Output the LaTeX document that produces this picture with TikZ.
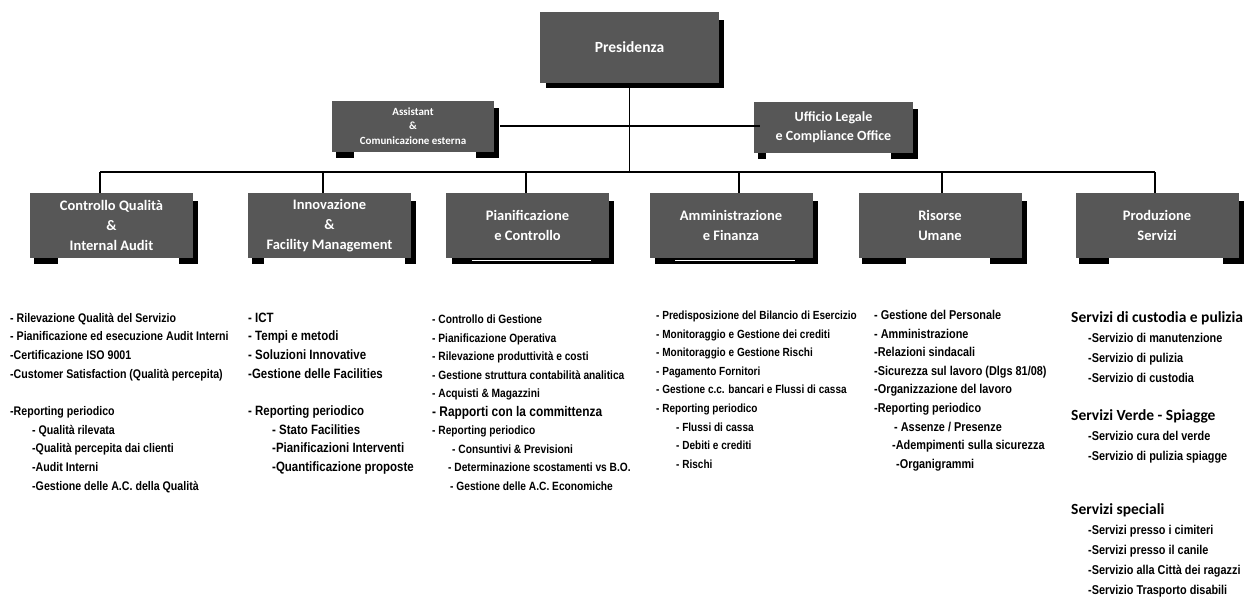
\documentclass[tikz,border=0pt]{standalone}
\usepackage{fontspec}
\newfontfamily\boxfont{Carlito}
\newfontfamily\listfont[FakeStretch=0.85]{Liberation Sans}
\usetikzlibrary{positioning}

\definecolor{boxgray}{gray}{0.34}

\tikzset{
  unit/.style={fill=boxgray, text=white, align=center, inner sep=0pt,
    minimum width=163pt, minimum height=65pt,
    font=\boxfont\bfseries\fontsize{14.5}{20}\selectfont},
  staff/.style={unit, minimum width=162pt, minimum height=51pt},
  item/.style={anchor=base west, inner sep=0pt,
    font=\listfont\bfseries\fontsize{#1}{14}\selectfont},
  item/.default=12,
  head/.style={anchor=base west, inner sep=0pt,
    font=\boxfont\bfseries\fontsize{15.5}{18}\selectfont},
  link/.style={line width=1.5pt},
}

% ombra: striscia a destra e due piedini in basso
\newcommand{\feet}[3]{%
  \fill ([yshift=-8pt]#1.north east) rectangle ([xshift=5pt,yshift=-6pt]#1.south east);
  \fill ([xshift=4pt]#1.south west) rectangle ([xshift=#2pt,yshift=-6pt]#1.south west);
  \fill ([xshift=-#3pt]#1.south east) rectangle ([xshift=5pt,yshift=-6pt]#1.south east);
}
% ombra piena con filo bianco
\newcommand{\fullshadow}[1]{%
  \fill ([yshift=-8pt]#1.north east) rectangle ([xshift=5pt,yshift=-6pt]#1.south east);
  \fill ([xshift=6pt]#1.south west) rectangle ([xshift=5pt,yshift=-6pt]#1.south east);
  \draw[white, line width=1pt] ([xshift=26pt,yshift=-2.5pt]#1.south west) -- ([xshift=-18pt,yshift=-2.5pt]#1.south east);
}

\begin{document}
\begin{tikzpicture}[x=1pt,y=-1pt]
  \useasboundingbox (0,0) rectangle (1255,602);

  % vertice
  \node[unit, minimum width=179pt, minimum height=71pt,
    font=\boxfont\bfseries\fontsize{15.5}{18}\selectfont] (pres) at (629.5,47.5) {Presidenza};
  \node[staff, font=\boxfont\bfseries\fontsize{11}{14.5}\selectfont] (asst) at (413,126)
    {Assistant\\\&\\Comunicazione esterna};
  \node[staff, minimum width=159pt, font=\boxfont\bfseries\fontsize{14}{19}\selectfont] (legal) at (833.5,127)
    {Ufficio Legale\\e Compliance Office};

  % direzioni
  \node[unit] (dep1) at (111.5,225.5) {Controllo Qualità\\\&\\Internal Audit};
  \node[unit] (dep2) at (329.5,225.5) {Innovazione\\\&\\Facility Management};
  \node[unit] (dep3) at (527.5,225.5) {Pianificazione\\e Controllo};
  \node[unit] (dep4) at (731,225.5) {Amministrazione\\e Finanza};
  \node[unit] (dep5) at (940,225.5) {Risorse\\Umane};
  \node[unit] (dep6) at (1157,225.5) {Produzione\\Servizi};

  \fill ([yshift=-8pt]pres.north east) rectangle ([xshift=5pt,yshift=-5pt]pres.south east);
  \fill ([xshift=6pt]pres.south west) rectangle ([xshift=5pt,yshift=-5pt]pres.south east);
  \feet{asst}{22}{18}
  \feet{legal}{12}{22}
  \feet{dep1}{28}{14}
  \feet{dep2}{16}{6}
  \fullshadow{dep3}
  \fullshadow{dep4}
  \feet{dep5}{48}{32}
  \feet{dep6}{34}{16}

  % collegamenti
  \coordinate (bus1) at (100,172);
  \coordinate (bus2) at (323,172);
  \coordinate (bus3) at (526,172);
  \coordinate (bus4) at (739,172);
  \coordinate (bus5) at (942,172);
  \coordinate (bus6) at (1155,172);
  \draw[link] ([xshift=6pt]asst.east) -- ([xshift=6pt]asst.east -| legal.west);
  \draw[link] (pres.south) -- (pres.south |- bus1);
  \draw[link] (bus1) -- (bus6);
  \foreach \i in {1,...,6}
    \draw[link] (bus\i) -- (bus\i |- dep\i.north);

  % Controllo Qualita'
  \foreach \n/\dx/\txt [count=\k] in {0/0/- Rilevazione Qualità del Servizio,
      1/0/- Pianificazione ed esecuzione Audit Interni, 2/0/-Certificazione ISO 9001,
      3/0/-Customer Satisfaction (Qualità percepita), 5/0/-Reporting periodico,
      6/22/- Qualità rilevata, 7/22/-Qualità percepita dai clienti, 8/22/-Audit Interni,
      9/22/-Gestione delle A.C. della Qualità}
    \node[item=12.5] (cq\k) at (10+\dx,322+18.7*\n) {\txt};

  % Innovazione
  \foreach \n/\dx/\txt [count=\k] in {0/0/- ICT, 1/0/- Tempi e metodi,
      2/0/- Soluzioni Innovative, 3/0/-Gestione delle Facilities,
      5/0/- Reporting periodico, 6/24/- Stato Facilities,
      7/24/-Pianificazioni Interventi, 8/24/-Quantificazione proposte}
    \node[item=13.5] (fm\k) at (248+\dx,322+18.7*\n) {\txt};

  % Pianificazione e Controllo
  \foreach \n/\dx/\txt [count=\k] in {0/0/- Controllo di Gestione,
      1/0/- Pianificazione Operativa, 2/0/- Rilevazione produttività e costi,
      3/0/- Gestione struttura contabilità analitica, 4/0/- Acquisti \& Magazzini,
      5/0/{\fontsize{14}{15}\selectfont - Rapporti con la committenza},
      6/0/- Reporting periodico, 7/20/- Consuntivi \& Previsioni,
      8/16/- Determinazione scostamenti vs B.O., 9/18/- Gestione delle A.C. Economiche}
    \node[item=12] (pc\k) at (432+\dx,323.5+18.5*\n) {\txt};

  % Amministrazione e Finanza
  \foreach \n/\dx/\txt [count=\k] in {0/0/- Predisposizione del Bilancio di Esercizio,
      1/0/- Monitoraggio e Gestione dei crediti, 2/0/- Monitoraggio e Gestione Rischi,
      3/0/- Pagamento Fornitori, 4/0/- Gestione c.c. bancari e Flussi di cassa,
      5/0/- Reporting periodico, 6/20/- Flussi di cassa, 7/20/- Debiti e crediti,
      8/20/- Rischi}
    \node[item=11.8] (af\k) at (656+\dx,319.5+18.6*\n) {\txt};

  % Risorse Umane
  \foreach \n/\dx/\txt [count=\k] in {0/0/- Gestione del Personale,
      1/0/- Amministrazione, 2/0/-Relazioni sindacali,
      3/0/{-Sicurezza sul lavoro (Dlgs 81/08)}, 4/0/-Organizzazione del lavoro,
      5/0/-Reporting periodico, 6/20/{- Assenze / Presenze},
      7/18/-Adempimenti sulla sicurezza, 8/22/-Organigrammi}
    \node[item=12.8] (ru\k) at (874+\dx,319.5+18.6*\n) {\txt};

  % Produzione Servizi
  \node[head] (ps1) at (1071,322) {Servizi di custodia e pulizia};
  \node[head] (ps2) at (1071,420) {Servizi Verde - Spiagge};
  \node[head] (ps3) at (1071,514) {Servizi speciali};
  \foreach \yy/\txt [count=\k] in {342/-Servizio di manutenzione, 362/-Servizio di pulizia,
      382/-Servizio di custodia, 440/-Servizio cura del verde,
      460/-Servizio di pulizia spiagge, 534/-Servizi presso i cimiteri,
      554/-Servizi presso il canile, 574/-Servizio alla Città dei ragazzi,
      594/-Servizio Trasporto disabili}
    \node[item=12.8] (sv\k) at (1088,\yy) {\txt};
\end{tikzpicture}
\end{document}
